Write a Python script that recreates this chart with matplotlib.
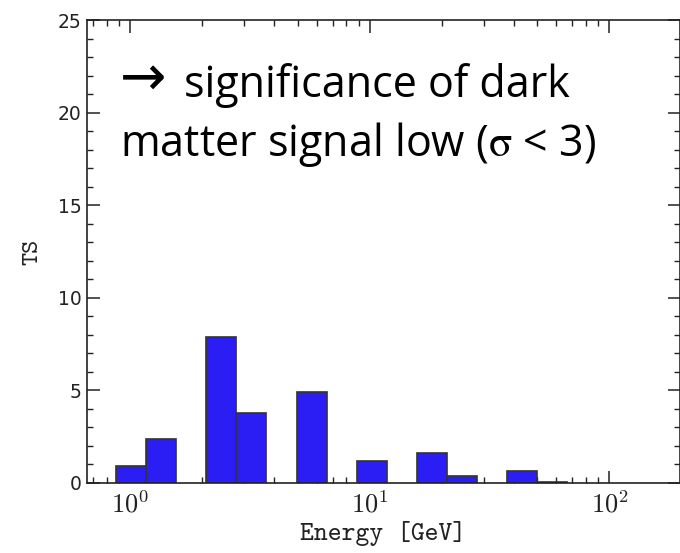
import numpy as np
import matplotlib
matplotlib.use("Agg")
from matplotlib import pyplot as plt
from matplotlib.ticker import LogLocator, MultipleLocator, FixedLocator

# energy bin edges [GeV] and TS per bin
bin_edges = [0.875, 1.168, 1.560, 2.082, 2.780, 3.711, 4.955, 6.614,
             8.831, 11.79, 15.74, 21.01, 28.05, 37.46, 50.0, 66.76]
ts_values = [0.9, 2.4, 0.0, 7.9, 3.8, 0.0, 4.9, 0.0,
             1.2, 0.0, 1.6, 0.4, 0.0, 0.65, 0.07]
x_ticks = [1, 10, 100]
x_tick_labels = [r"$10^{0}$", r"$10^{1}$", r"$10^{2}$"]
y_ticks = [0, 5, 10, 15, 20, 25]

fig = plt.figure(figsize=(6.8, 5.53), dpi=100)
ax = fig.add_axes([87/680, 1 - 483/553, (679.5 - 87)/680, (483 - 20)/553])

edges = np.array(bin_edges)
vals = np.array(ts_values)
keep = vals > 0
ax.bar(edges[:-1][keep], vals[keep], width=np.diff(edges)[keep], align="edge",
       color="#2b1ef5", edgecolor="#333333", linewidth=1.2, zorder=2)

ax.set_xscale("log")
ax.set_xlim(0.662, 196)
ax.set_ylim(0, 25)

ax.xaxis.set_major_locator(FixedLocator(x_ticks))
ax.set_xticklabels(x_tick_labels)
ax.xaxis.set_minor_locator(LogLocator(base=10, subs=np.arange(2, 10)))
ax.yaxis.set_major_locator(FixedLocator(y_ticks))
ax.yaxis.set_minor_locator(MultipleLocator(1))

ax.tick_params(which="both", direction="in", top=True, right=True,
               color="#222222")
ax.tick_params(which="major", length=9, width=1.1)
ax.tick_params(which="minor", length=4, width=1.0)
ax.tick_params(axis="x", which="major", pad=6)
ax.tick_params(axis="y", which="major", pad=4)
for lab in ax.get_xticklabels():
    lab.set_fontsize(19)
    lab.set_math_fontfamily("cm")
    lab.set_color("#222222")
for lab in ax.get_yticklabels():
    lab.set_fontsize(13.5)
    lab.set_family("DejaVu Sans")
    lab.set_color("#222222")
for s in ax.spines.values():
    s.set_linewidth(1.2)
    s.set_color("#222222")

ax.set_xlabel("Energy [GeV]", family="cmtt10", fontsize=19, labelpad=2,
              color="#222222")
ax.set_ylabel("TS", family="cmtt10", fontsize=18, labelpad=10,
              color="#222222")

note_font = ["Open Sans", "DejaVu Sans"]
fig.text(120/680, 1 - 95/553, "\u2192", family="DejaVu Sans",
         fontsize=40, va="baseline", ha="left")
fig.text(184/680, 1 - 97/553, "significance of dark",
         family=note_font, fontsize=31, va="baseline", ha="left")
fig.text(120/680, 1 - 156/553, r"matter signal low ($\mathrm{\sigma}$ < 3)",
         family=note_font, fontsize=31, va="baseline", ha="left",
         math_fontfamily="stix")

fig.savefig("out.png", dpi=100)
